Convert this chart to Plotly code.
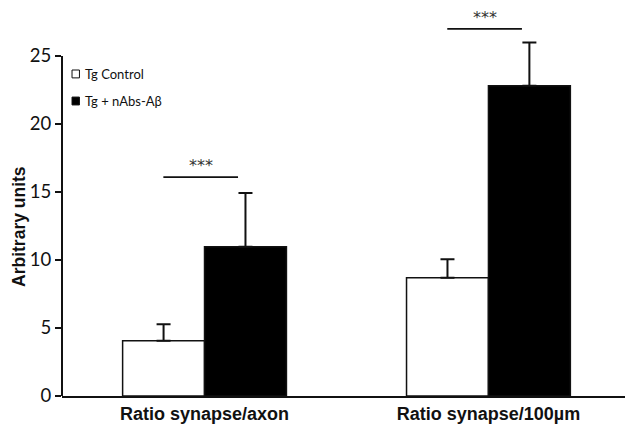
import plotly.graph_objects as go

categories = ["Ratio synapse/axon", "Ratio synapse/100µm"]
series_names = ["Tg Control", "Tg + nAbs-Aβ"]
control_vals = [4.07, 8.70]
control_err = [1.2, 1.35]
treated_vals = [10.98, 22.82]
treated_err = [3.95, 3.18]
sig_heights = [16.1, 27.0]
sig_labels = ["***", "***"]
y_ticks = [0, 5, 10, 15, 20, 25]

fig = go.Figure()
fig.add_trace(go.Bar(
    x=categories, y=control_vals, name=series_names[0],
    marker=dict(color="white", line=dict(color="#111", width=1.5)),
    error_y=dict(type="data", array=control_err, arrayminus=[0] * len(control_err),
                 symmetric=False, color="#111", thickness=2, width=7),
    showlegend=False,
))
fig.add_trace(go.Bar(
    x=categories, y=treated_vals, name=series_names[1],
    marker=dict(color="black", line=dict(color="#111", width=1.5)),
    error_y=dict(type="data", array=treated_err, arrayminus=[0] * len(treated_err),
                 symmetric=False, color="#111", thickness=2, width=7),
    showlegend=False,
))

shapes = []
annotations = []
# significance lines
for i, (h, lab) in enumerate(zip(sig_heights, sig_labels)):
    x0, x1 = i - 0.145, i + 0.118
    shapes.append(dict(type="line", xref="x", yref="y", x0=x0, x1=x1, y0=h, y1=h,
                       line=dict(color="#111", width=1.8)))
    annotations.append(dict(x=(x0 + x1) / 2, y=h + 0.85, xref="x", yref="y", text=lab,
                            showarrow=False, font=dict(family="DejaVu Sans", size=16, color="#333"),
                            yanchor="middle"))

# y axis line only up to 25
shapes.append(dict(type="line", xref="paper", yref="y", x0=0, x1=0, y0=0, y1=y_ticks[-1],
                   line=dict(color="#111", width=2)))

# manual legend
leg_y = [23.68, 21.69]
fills = ["white", "black"]
for name, yy, fc in zip(series_names, leg_y, fills):
    shapes.append(dict(type="rect", xref="paper", yref="y", x0=0.0178, x1=0.0310,
                       y0=yy - 0.29, y1=yy + 0.29, fillcolor=fc, line=dict(color="#111", width=1)))
    annotations.append(dict(x=0.0373, y=yy, xref="paper", yref="y", text=name, showarrow=False,
                            xanchor="left", yanchor="middle",
                            font=dict(family="Lato", size=13, color="#111")))

# y axis title
annotations.append(dict(x=-0.0764, y=12.5, xref="paper", yref="y", text="<b>Arbitrary units</b>",
                        showarrow=False, textangle=-90, xanchor="center", yanchor="middle",
                        font=dict(family="Liberation Sans", size=17.5, color="#111")))

fig.update_layout(
    width=626, height=425,
    margin=dict(l=62, r=1, t=2, b=29),
    paper_bgcolor="white", plot_bgcolor="white",
    barmode="group", bargap=0.423, bargroupgap=0,
    shapes=shapes, annotations=annotations,
    showlegend=False,
)
fig.update_xaxes(
    range=[-0.502, 1.481], showline=True, linecolor="#111", linewidth=2,
    ticks="", showgrid=False, zeroline=False,
    tickfont=dict(family="Liberation Sans", size=18, color="#111"),
    tickprefix="<b>", ticksuffix="</b>",
)
fig.update_yaxes(
    range=[0, 28.97], tickvals=y_ticks, showline=False, showgrid=False, zeroline=False,
    ticks="outside", ticklen=6, tickwidth=2, tickcolor="#111",
    tickfont=dict(family="Lato", size=18.5, color="#111"),
)

fig.write_html("out.html", config={"displayModeBar": False},
               post_script="document.body.style.margin='0px';document.body.style.overflow='hidden';")
